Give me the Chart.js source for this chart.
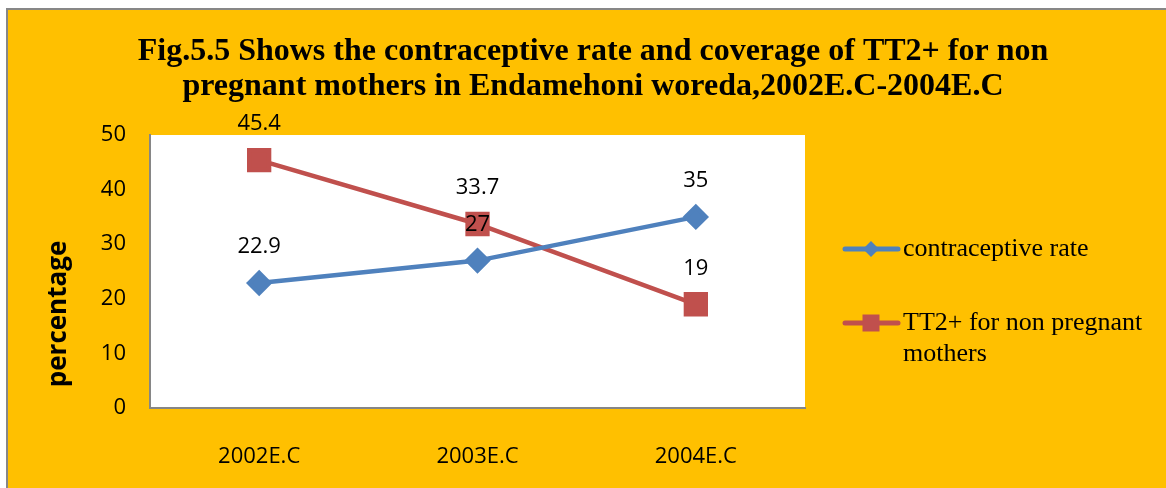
<!DOCTYPE html>
<html lang="en">
<head>
<meta charset="UTF-8">
<title>Fig.5.5 contraceptive rate and TT2+ coverage</title>
<style>
    html, body {
        margin: 0;
        padding: 0;
        background: #ffffff;
    }
    #frame {
        position: absolute;
        left: 6px;
        top: 8px;
        width: 1160px;
        height: 480px;
        background: #FFC000;
        border-left: 2px solid #878787;
        border-top: 2px solid #878787;
    }
</style>
<script src="https://cdn.jsdelivr.net/npm/chart.js@4/dist/chart.umd.min.js"></script>
</head>
<body>
<div id="frame">
    <canvas id="chart" width="1158" height="478"></canvas>
</div>
<script>
    // data
    const years = ['2002E.C', '2003E.C', '2004E.C'];
    const contraceptiveRate = [22.9, 27, 35];
    const tt2NonPregnant = [45.4, 33.7, 19];
    const yMin = 0, yMax = 50, yStep = 10;

    const titleLines = [
        'Fig.5.5 Shows the contraceptive rate and coverage of TT2+ for non',
        'pregnant mothers in Endamehoni woreda,2002E.C-2004E.C'
    ];
    const yTitle = 'percentage';

    const tickFont = { family: 'Open Sans', size: 22 };

    // white plot area
    const plotBackground = {
        id: 'plotBackground',
        beforeDraw(chart) {
            const a = chart.chartArea, ctx = chart.ctx;
            ctx.save();
            ctx.fillStyle = '#ffffff';
            ctx.fillRect(a.left, a.top, a.right - a.left, a.bottom - a.top);
            ctx.restore();
        }
    };

    // value labels above every point
    const valueLabels = {
        id: 'valueLabels',
        afterDatasetsDraw(chart) {
            const ctx = chart.ctx;
            ctx.save();
            ctx.font = tickFont.size + 'px "' + tickFont.family + '"';
            ctx.fillStyle = '#000';
            ctx.textAlign = 'center';
            ctx.textBaseline = 'middle';
            chart.data.datasets.forEach((ds, i) => {
                chart.getDatasetMeta(i).data.forEach((pt, j) => {
                    ctx.fillText(String(ds.data[j]), pt.x, pt.y - 36);
                });
            });
            ctx.restore();
        }
    };

    function drawMarker(ctx, style, x, y, r, color) {
        ctx.fillStyle = color;
        ctx.beginPath();
        if (style === 'rectRot') {
            ctx.moveTo(x, y - r);
            ctx.lineTo(x + r, y);
            ctx.lineTo(x, y + r);
            ctx.lineTo(x - r, y);
        } else {
            ctx.rect(x - r, y - r, 2 * r, 2 * r);
        }
        ctx.closePath();
        ctx.fill();
    }

    // legend on the right with wrapped text, plus the rotated axis title
    const sideLegend = {
        id: 'sideLegend',
        afterDraw(chart) {
            const ctx = chart.ctx;
            const rows = [239, 313];
            const sizes = [8, 8.5];
            ctx.save();
            ctx.font = '26px "Liberation Serif"';
            ctx.textBaseline = 'middle';
            chart.data.datasets.forEach((ds, i) => {
                const y = rows[i];
                ctx.strokeStyle = ds.borderColor;
                ctx.lineWidth = 5;
                ctx.lineCap = 'round';
                ctx.beginPath();
                ctx.moveTo(837, y);
                ctx.lineTo(890, y);
                ctx.stroke();
                drawMarker(ctx, ds.pointStyle, 863, y, sizes[i], ds.pointBackgroundColor);

                // wrap text to the space left of the frame edge
                const words = ds.label.split(' ');
                let line = '', ly = y;
                ctx.fillStyle = '#000';
                words.forEach(w => {
                    const test = line ? line + ' ' + w : w;
                    if (ctx.measureText(test).width > 258 && line) {
                        ctx.fillText(line, 895, ly);
                        line = w;
                        ly += 31;
                    } else {
                        line = test;
                    }
                });
                ctx.fillText(line, 895, ly);
            });

            ctx.font = 'bold 26px "Open Sans"';
            ctx.textAlign = 'center';
            ctx.translate(51, 304);
            ctx.rotate(-Math.PI / 2);
            ctx.fillText(yTitle, 0, 0);
            ctx.restore();
        }
    };

    new Chart(document.getElementById('chart'), {
        type: 'line',
        data: {
            labels: years,
            datasets: [{
                label: 'contraceptive rate',
                data: contraceptiveRate,
                borderColor: '#4F81BD',
                backgroundColor: '#4F81BD',
                pointBackgroundColor: '#4F81BD',
                pointBorderColor: '#4F81BD',
                pointStyle: 'rectRot',
                pointRadius: 10,
                borderWidth: 4.5,
                tension: 0
            }, {
                label: 'TT2+ for non pregnant mothers',
                data: tt2NonPregnant,
                borderColor: '#C0504D',
                backgroundColor: '#C0504D',
                pointBackgroundColor: '#C0504D',
                pointBorderColor: '#C0504D',
                pointStyle: 'rect',
                pointRadius: 14,
                borderWidth: 4.5,
                tension: 0
            }]
        },
        options: {
            responsive: false,
            animation: false,
            layout: { padding: { left: 12, right: 0, top: 0, bottom: 0 } },
            plugins: {
                legend: { display: false },
                tooltip: { enabled: false },
                title: {
                    display: true,
                    text: titleLines,
                    color: '#000',
                    font: { family: 'Liberation Serif', size: 32, weight: 'bold', lineHeight: 1.094 },
                    padding: { top: 24, bottom: 31 }
                }
            },
            scales: {
                x: {
                    offset: true,
                    grid: { display: false },
                    border: { color: '#868686', width: 2 },
                    ticks: { color: '#000', font: tickFont, padding: 28 },
                    afterFit(s) { s.height = 80; }
                },
                y: {
                    min: yMin,
                    max: yMax,
                    grid: { display: false, drawTicks: false },
                    border: { color: '#868686', width: 2 },
                    ticks: { stepSize: yStep, color: '#000', font: tickFont, padding: 24 },
                    afterFit(s) { s.width = 130; }
                },
                // empty right-hand axis that keeps room for the legend
                legendSpace: {
                    position: 'right',
                    grid: { display: false },
                    border: { display: false },
                    ticks: { display: false },
                    afterFit(s) { s.width = 361; }
                }
            }
        },
        plugins: [plotBackground, valueLabels, sideLegend]
    });
</script>
</body>
</html>
